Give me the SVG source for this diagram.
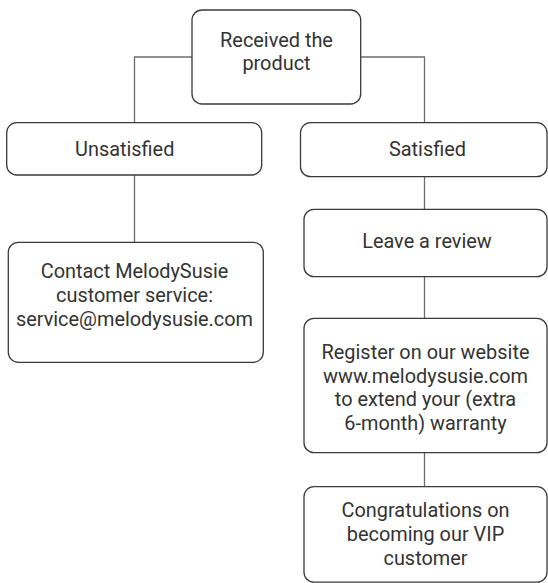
<svg xmlns="http://www.w3.org/2000/svg" width="548" height="583" viewBox="0 0 548 583">
<style>
.box{fill:#ffffff;stroke:#3a3a3a;stroke-width:1.3}
.t{font-family:Roboto,"Liberation Sans",sans-serif;font-size:19.9px;fill:#333333;text-anchor:middle}
.c{fill:none;stroke:#6e6e6e;stroke-width:1.3}
</style>
<rect width="548" height="583" fill="#ffffff"/>
<g id="connectors">
<path class="c" d="M192 57 H134.5 V123"/>
<path class="c" d="M360.7 57 H424.5 V123"/>
<path class="c" d="M134.5 175 V242"/>
<path class="c" d="M424.5 176.7 V209.3"/>
<path class="c" d="M424.5 276.7 V318.3"/>
<path class="c" d="M424.5 452.7 V486.7"/>
</g>
<g id="received">
<rect class="box" x="192" y="10" width="168.7" height="94" rx="10"/>
<text class="t" x="276.5" y="46.7">Received the</text>
<text class="t" x="276.5" y="70.2">product</text>
</g>
<g id="unsatisfied">
<rect class="box" x="6.7" y="122.7" width="255" height="52.3" rx="10"/>
<text class="t" x="124.7" y="155.7">Unsatisfied</text>
</g>
<g id="satisfied">
<rect class="box" x="300.5" y="122.7" width="246.5" height="54" rx="10"/>
<text class="t" x="427.5" y="155.7">Satisfied</text>
</g>
<g id="contact">
<rect class="box" x="8.3" y="242.3" width="255" height="120" rx="10"/>
<text class="t" x="134.5" y="277.7">Contact MelodySusie</text>
<text class="t" x="134.5" y="301.7">customer service:</text>
<text class="t" x="134.5" y="325.7">service@melodysusie.com</text>
</g>
<g id="review">
<rect class="box" x="304" y="209.3" width="243" height="67.4" rx="10"/>
<text class="t" x="427" y="248.3">Leave a review</text>
</g>
<g id="register">
<rect class="box" x="304" y="318.3" width="243" height="134.4" rx="10"/>
<text class="t" x="425.5" y="359.3">Register on our website</text>
<text class="t" x="425.5" y="382.8">www.melodysusie.com</text>
<text class="t" x="425.5" y="406.3">to extend your (extra</text>
<text class="t" x="425.5" y="429.8">6-month) warranty</text>
</g>
<g id="congrats">
<rect class="box" x="304" y="486.7" width="243" height="95.5" rx="10"/>
<text class="t" x="425.5" y="517.3">Congratulations on</text>
<text class="t" x="425.5" y="541.2">becoming our VIP</text>
<text class="t" x="425.5" y="565">customer</text>
</g>
</svg>
